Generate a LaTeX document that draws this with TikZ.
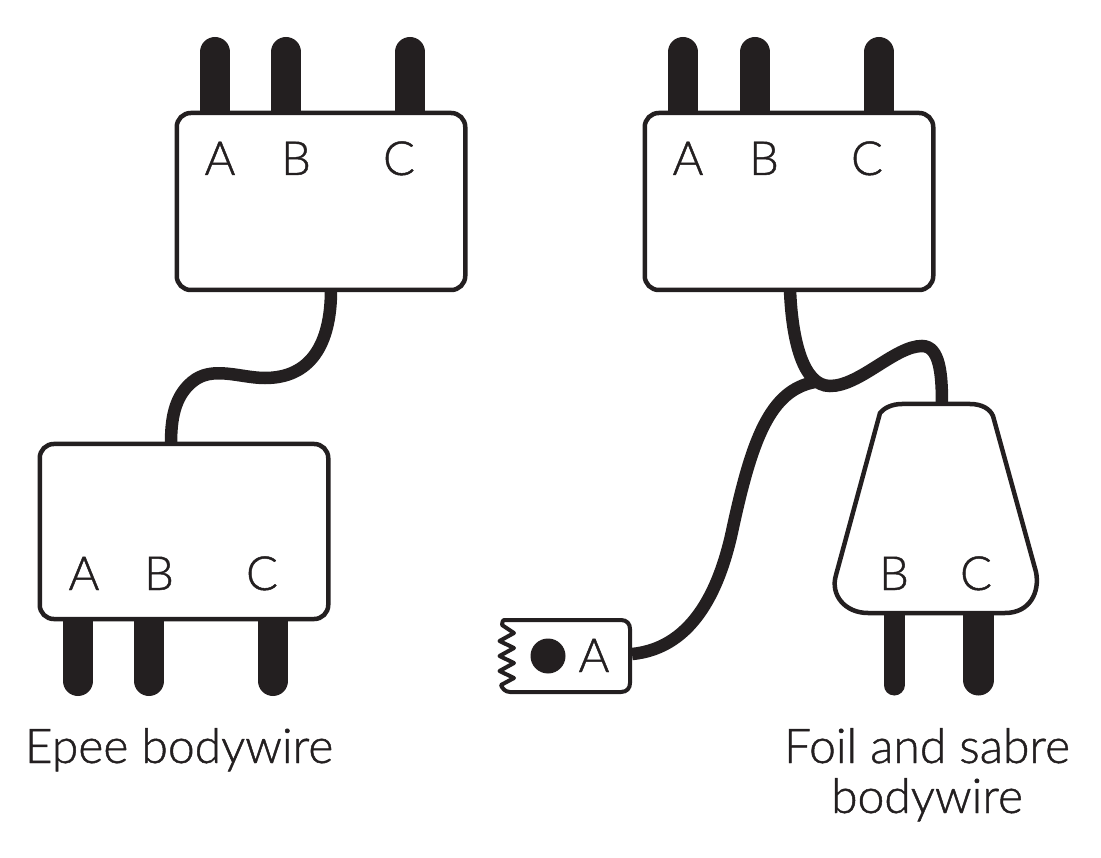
\documentclass[tikz,border=0pt]{standalone}
\usepackage{fontspec}
\setmainfont{Lato Light}[RawFeature={embolden=1}]
\usetikzlibrary{calc}
\definecolor{ink}{HTML}{231F20}
\tikzset{
  box/.style={draw=ink,line width=4.5pt,fill=white,rounded corners=14pt,minimum width=288.5pt,minimum height=177pt,inner sep=0pt,outer sep=0pt},
  cable/.style={draw=ink,line width=12.5pt},
  prong/.style={draw=ink,line cap=round},
  pin/.style={line width=30pt,prong},
  lab/.style={text=ink,font=\fontsize{47pt}{47pt}\selectfont,anchor=base,inner sep=0pt},
  captext/.style={text=ink,font=\fontsize{48pt}{52pt}\selectfont,anchor=base,inner sep=0pt,align=center},
  outline/.style={draw=ink,line width=4.5pt,fill=white,line join=round}
}
\begin{document}
\begin{tikzpicture}[x=1pt,y=-1pt]
\useasboundingbox (0,0) rectangle (1101,858);
% named anchors
\coordinate (plugTop) at (942,404);
\coordinate (tagEnd) at (632,654);
\coordinate (spl) at (815,382);
\coordinate (a1) at (215,52); \coordinate (a2) at (286,52); \coordinate (a3) at (410,52);
\coordinate (b1) at (683,52); \coordinate (b2) at (755,52); \coordinate (b3) at (879,52);
\coordinate (c1) at (78,681); \coordinate (c2) at (149,681); \coordinate (c3) at (273,681);
\coordinate (d1) at (894,685); \coordinate (d2) at (978.5,680);
% prongs
\draw[pin] (a1) -- (215,120); \draw[pin] (a2) -- (286,120); \draw[pin] (a3) -- (410,120);
\draw[pin] (b1) -- (683,120); \draw[pin] (b2) -- (755,120); \draw[pin] (b3) -- (879,120);
\draw[pin] (c1) -- (78,610); \draw[pin] (c2) -- (149,610); \draw[pin] (c3) -- (273,610);
\draw[prong,line width=21pt] (d1) -- (894,605);
\draw[prong,line width=31pt] (d2) -- (978.5,605);
% boxes
\node[box] (top1) at (321,201.5) {};
\node[box] (top2) at (789,201.5) {};
\node[box,minimum height=175pt] (low) at (184,531.5) {};
\coordinate (s1) at (331,290);
\coordinate (s2) at (790,290);
\coordinate (s3) at (171,444);
% cables
\path[cable] (s1) .. controls (331,345) and (310,378) .. (265,378)
  .. controls (240,378) and (212,365) .. (192,382)
  .. controls (174,397) and (171,420) .. (s3);
\path[cable] (s2) .. controls (792,340) and (803,386) .. (830,386)
  .. controls (860,386) and (895,346) .. (922,346)
  .. controls (940,346) and (942,375) .. (plugTop);
\path[cable] (spl) .. controls (770,390) and (752,440) .. (733,527)
  .. controls (721,585) and (695,648) .. (tagEnd);
% plug body
\draw[outline] (880,413) .. controls (884,408) and (892,404) .. (902,404)
  -- (970,404) .. controls (982,404) and (990,409) .. (993,416)
  -- (1036,572) .. controls (1040,592) and (1030,613) .. (1005,613)
  -- (868,613) .. controls (845,613) and (830,595) .. (836,575) -- cycle;
% tag
\draw[draw=ink,line width=4pt,fill=white,line join=round] (504,620) -- (621,620)
  .. controls (627,620) and (630,624) .. (630,629) -- (630,683)
  .. controls (630,688) and (627,692) .. (621,692) -- (510,692)
  .. controls (505,692) and (502,688) .. (501,685)
  -- (514,678) -- (499.5,671) -- (514,663) -- (499.5,656) -- (514,648) -- (499.5,641) -- (514,633) -- (502,625)
  .. controls (502,622) and (503,620) .. (504,620) -- cycle;
\fill[ink] (548,656) circle (17.5);
% labels
\foreach \n/\x/\y/\t in {ta/220/175/A,tb/296/175/B,tc/399/175/C,ua/688/175/A,ub/764/175/B,uc/867/175/C,la/84/590/A,lb/159/590/B,lc/262/590/C,pb/894/590/B,pc/976/590/C,ga/594/672/A}
  \node[lab] (\n) at (\x,\y) {\t};
\node[captext] (cap1) at (179,763) {Epee bodywire};
\node[captext] (cap2) at (927,763) {Foil and sabre};
\node[captext] (cap3) at (927,813) {bodywire};
\end{tikzpicture}
\end{document}
